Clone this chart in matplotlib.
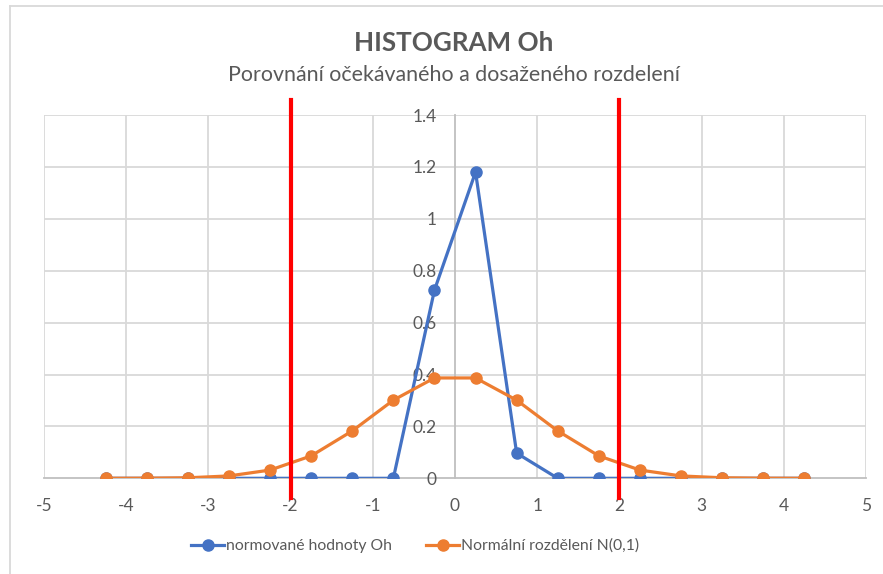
import matplotlib
matplotlib.use("Agg")
import matplotlib.pyplot as plt
from matplotlib.lines import Line2D

plt.rcParams["font.family"] = ["Lato", "DejaVu Sans"]

# data
x_vals = [-4.25, -3.75, -3.25, -2.75, -2.25, -1.75, -1.25, -0.75, -0.25,
          0.25, 0.75, 1.25, 1.75, 2.25, 2.75, 3.25, 3.75, 4.25]
oh_vals = [0, 0, 0, 0, 0, 0, 0, 0, 0.725, 1.18, 0.097, 0, 0, 0, 0, 0, 0, 0]
normal_vals = [0.0000, 0.0004, 0.0020, 0.0091, 0.0317, 0.0863, 0.1826, 0.3011, 0.3867,
               0.3867, 0.3011, 0.1826, 0.0863, 0.0317, 0.0091, 0.0020, 0.0004, 0.0000]
limits = [-2, 2]
x_ticks = [-5, -4, -3, -2, -1, 0, 1, 2, 3, 4, 5]
y_ticks = [0, 0.2, 0.4, 0.6, 0.8, 1, 1.2, 1.4]

title = "HISTOGRAM Oh"
subtitle = "Porovnání očekávaného a dosaženého rozdelení"
label_oh = "normované hodnoty Oh"
label_norm = "Normální rozdělení N(0,1)"

BLUE = "#4472C4"
ORANGE = "#ED7D31"
TEXT = "#595959"
GRID = "#D9D9D9"
AXIS = "#BFBFBF"

fig = plt.figure(figsize=(8.83, 5.74), dpi=100)
ax = fig.add_axes([44 / 883, 1 - 478.3 / 574, 822 / 883, 363.3 / 574])

ax.set_xlim(-5, 5)
ax.set_ylim(0, 1.4)
ax.set_xticks(x_ticks)
ax.set_yticks(y_ticks)
ax.set_xticklabels([f"{t:g}" for t in x_ticks])
ax.set_yticklabels([f"{t:g}" for t in y_ticks])

for t in x_ticks:
    if t != 0:
        ax.axvline(t, color=GRID, lw=1.3, zorder=0)
for t in y_ticks[1:]:
    ax.axhline(t, color=GRID, lw=1.3, zorder=0)

for side in ("top", "right"):
    ax.spines[side].set_visible(False)
ax.spines["left"].set_position(("data", 0))
for side in ("left", "bottom"):
    ax.spines[side].set_color(AXIS)
    ax.spines[side].set_linewidth(1.3)
    ax.spines[side].set_zorder(1)

ax.tick_params(axis="both", length=0, labelsize=12.5, labelcolor=TEXT)
ax.tick_params(axis="x", pad=14)
ax.tick_params(axis="y", pad=13)

ax.plot(x_vals, oh_vals, color=BLUE, lw=2.3, marker="o", markersize=8, zorder=3)
ax.plot(x_vals, normal_vals, color=ORANGE, lw=2.3, marker="o", markersize=8, zorder=4)

for lim in limits:
    ax.plot([lim, lim], [-0.077, 1.458], color="#FF0000", lw=3, clip_on=False, zorder=5)

fig.text(454 / 883, 1 - 43 / 574, title, ha="center", va="center",
         fontsize=18.7, fontweight="bold", color=TEXT)
fig.text(454 / 883, 1 - 75 / 574, subtitle, ha="center", va="center",
         fontsize=15.4, color=TEXT)

handles = [
    Line2D([], [], color=BLUE, lw=2.3, marker="o", markersize=8),
    Line2D([], [], color=ORANGE, lw=2.3, marker="o", markersize=8),
]
fig.legend(handles, [label_oh, label_norm], loc="center", ncol=2,
           bbox_to_anchor=(415 / 883, 1 - 546 / 574), frameon=False,
           fontsize=11.3, labelcolor=TEXT, handlelength=2.1, handletextpad=0.1,
           columnspacing=2.2)

# chart border
fig.add_artist(Line2D([10 / 883, 10 / 883], [0, 1 - 6 / 574], color=GRID,
                      lw=1.3, transform=fig.transFigure))
fig.add_artist(Line2D([10 / 883, 1], [1 - 6 / 574, 1 - 6 / 574], color=GRID,
                      lw=1.3, transform=fig.transFigure))

fig.savefig("out.png", dpi=100)
